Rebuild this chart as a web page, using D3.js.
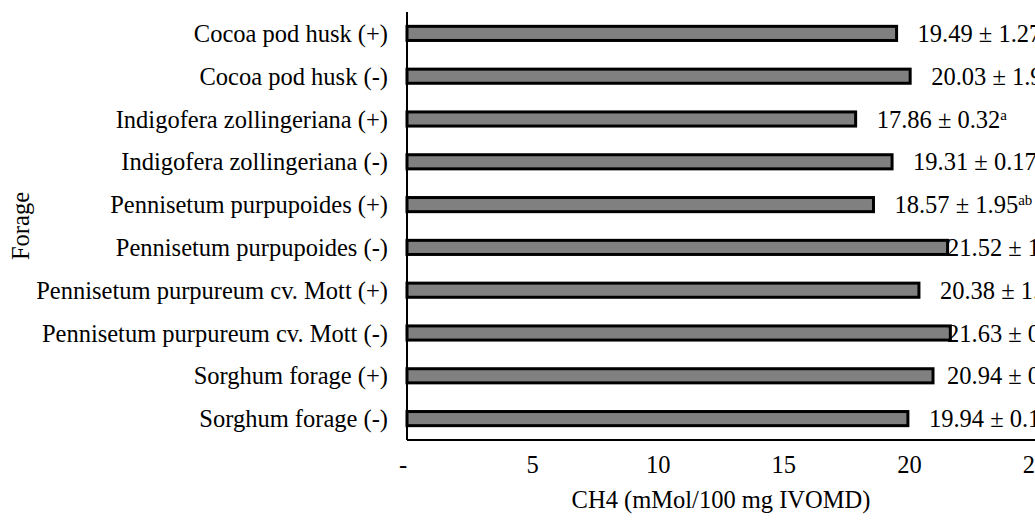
<!DOCTYPE html>
<html>
<head>
<meta charset="utf-8">
<script src="https://cdn.jsdelivr.net/npm/d3@7"></script>
<style>
  html, body { margin: 0; padding: 0; background: #fff; overflow: hidden; }
  text { font-family: "Liberation Serif", "Times New Roman", serif; fill: #000; }
</style>
</head>
<body>
<svg id="chart"></svg>
<script>
// forage treatments, top to bottom
const forages = [
  "Cocoa pod husk (+)",
  "Cocoa pod husk (-)",
  "Indigofera zollingeriana (+)",
  "Indigofera zollingeriana (-)",
  "Pennisetum purpupoides (+)",
  "Pennisetum purpupoides (-)",
  "Pennisetum purpureum cv. Mott (+)",
  "Pennisetum purpureum cv. Mott (-)",
  "Sorghum forage (+)",
  "Sorghum forage (-)"
];
const ch4Mean = [19.49, 20.03, 17.86, 19.31, 18.57, 21.52, 20.38, 21.63, 20.94, 19.94];
// the right part of these is cut off in the picture, so the tail is a guess
const ch4Sd = ["1.27", "1.92", "0.32", "0.17", "1.95", "1.05", "1.10", "0.45", "0.38", "0.12"];
const sigLetters = ["ab", "ab", "a", "ab", "ab", "b", "ab", "b", "ab", "ab"];
const xTicks = [0, 5, 10, 15, 20, 25];

const width = 1035, height = 524;
const margin = { top: 12, right: 0, bottom: 84, left: 407 };
const fs = 24.5;

const svg = d3.select("#chart")
  .attr("width", width)
  .attr("height", height);

const x = d3.scaleLinear()
  .domain([0, 25])
  .range([margin.left, width - margin.right]);

const y = d3.scaleBand()
  .domain(forages)
  .range([margin.top, height - margin.bottom])
  .paddingInner(0.67)
  .paddingOuter(0.335);

const rows = forages.map((f, i) => ({
  name: f, value: ch4Mean[i], sd: ch4Sd[i], sig: sigLetters[i]
}));

// bars
svg.append("g")
  .selectAll("rect")
  .data(rows)
  .join("rect")
  .attr("x", x(0))
  .attr("y", d => y(d.name))
  .attr("width", d => x(d.value) - x(0))
  .attr("height", y.bandwidth())
  .attr("fill", "#808080")
  .attr("stroke", "#000")
  .attr("stroke-width", 3);

// axis lines
svg.append("line")
  .attr("x1", x(0)).attr("x2", x(0))
  .attr("y1", margin.top).attr("y2", height - margin.bottom)
  .attr("stroke", "#000").attr("stroke-width", 2);
svg.append("line")
  .attr("x1", x(0)).attr("x2", width)
  .attr("y1", height - margin.bottom).attr("y2", height - margin.bottom)
  .attr("stroke", "#000").attr("stroke-width", 2);

// category labels
svg.append("g")
  .selectAll("text")
  .data(forages)
  .join("text")
  .attr("x", x(0) - 19)
  .attr("y", d => y(d) + y.bandwidth() / 2)
  .attr("dy", "0.35em")
  .attr("text-anchor", "end")
  .attr("font-size", fs)
  .text(d => d);

// x tick labels
svg.append("g")
  .selectAll("text")
  .data(xTicks)
  .join("text")
  .attr("x", d => x(d) - (d === 0 ? 4 : 0))
  .attr("y", height - margin.bottom + 24)
  .attr("dy", "0.35em")
  .attr("text-anchor", "middle")
  .attr("font-size", fs)
  .text(d => d === 0 ? "-" : d);

// value labels
const lab = svg.append("g")
  .selectAll("text")
  .data(rows)
  .join("text")
  .attr("x", d => Math.min(x(d.value) + 21, 947))
  .attr("y", d => y(d.name) + y.bandwidth() / 2)
  .attr("dy", "0.35em")
  .attr("font-size", fs);
lab.append("tspan").text(d => d.value.toFixed(2) + " ± " + d.sd);
lab.append("tspan")
  .attr("font-size", 15)
  .attr("dy", -8)
  .text(d => d.sig);

// axis titles
svg.append("text")
  .attr("x", (x(0) + x(25)) / 2)
  .attr("y", height - 16)
  .attr("text-anchor", "middle")
  .attr("font-size", fs)
  .text("CH4 (mMol/100 mg IVOMD)");

svg.append("text")
  .attr("transform", `translate(20,${(margin.top + height - margin.bottom) / 2}) rotate(-90)`)
  .attr("dy", "0.35em")
  .attr("text-anchor", "middle")
  .attr("font-size", fs)
  .text("Forage");
</script>
</body>
</html>
